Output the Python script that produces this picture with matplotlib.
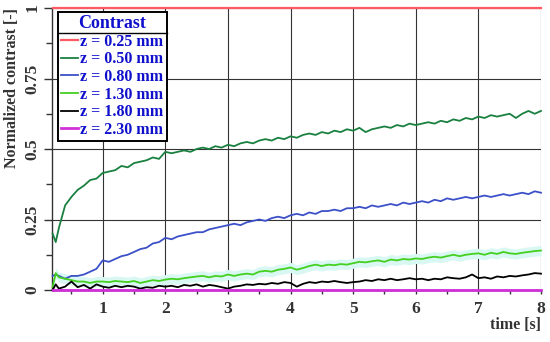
import matplotlib
matplotlib.use("Agg")
import matplotlib.pyplot as plt
from matplotlib.lines import Line2D
from matplotlib.ticker import MultipleLocator

plt.rcParams['font.family'] = ['Liberation Serif', 'DejaVu Serif']

time_s = [0.2, 0.25, 0.3, 0.4, 0.5, 0.6, 0.7, 0.8, 0.9, 1.0,
          1.1, 1.2, 1.3, 1.4, 1.5, 1.6, 1.7, 1.8, 1.9, 2.0,
          2.1, 2.2, 2.3, 2.4, 2.5, 2.6, 2.7, 2.8, 2.9, 3.0,
          3.1, 3.2, 3.3, 3.4, 3.5, 3.6, 3.7, 3.8, 3.9, 4.0,
          4.1, 4.2, 4.3, 4.4, 4.5, 4.6, 4.7, 4.8, 4.9, 5.0,
          5.1, 5.2, 5.3, 5.4, 5.5, 5.6, 5.7, 5.8, 5.9, 6.0,
          6.1, 6.2, 6.3, 6.4, 6.5, 6.6, 6.7, 6.8, 6.9, 7.0,
          7.1, 7.2, 7.3, 7.4, 7.5, 7.6, 7.7, 7.8, 7.9, 8.0]

z_025 = [1.0] * len(time_s)
z_050 = [0.20, 0.17, 0.22, 0.30, 0.33, 0.355, 0.37, 0.39, 0.395, 0.415,
         0.42, 0.425, 0.44, 0.435, 0.45, 0.455, 0.46, 0.47, 0.465, 0.49,
         0.485, 0.49, 0.495, 0.49, 0.50, 0.505, 0.50, 0.51, 0.505, 0.515,
         0.51, 0.52, 0.525, 0.52, 0.53, 0.535, 0.53, 0.54, 0.535, 0.545,
         0.54, 0.55, 0.555, 0.55, 0.56, 0.555, 0.565, 0.56, 0.57, 0.565,
         0.575, 0.56, 0.57, 0.575, 0.58, 0.575, 0.585, 0.58, 0.59, 0.585,
         0.59, 0.595, 0.59, 0.60, 0.595, 0.605, 0.60, 0.61, 0.605, 0.615,
         0.61, 0.62, 0.615, 0.62, 0.625, 0.61, 0.625, 0.635, 0.625, 0.635]
z_080 = [0.05, 0.055, 0.05, 0.04, 0.05, 0.05, 0.055, 0.065, 0.075, 0.105,
         0.10, 0.11, 0.12, 0.125, 0.135, 0.145, 0.15, 0.165, 0.17, 0.185,
         0.18, 0.19, 0.195, 0.20, 0.205, 0.205, 0.215, 0.22, 0.225, 0.23,
         0.235, 0.23, 0.24, 0.245, 0.25, 0.245, 0.255, 0.26, 0.255, 0.265,
         0.27, 0.265, 0.275, 0.27, 0.28, 0.28, 0.285, 0.28, 0.29, 0.29,
         0.295, 0.29, 0.30, 0.295, 0.30, 0.305, 0.30, 0.31, 0.305, 0.31,
         0.315, 0.31, 0.32, 0.315, 0.325, 0.32, 0.325, 0.33, 0.325, 0.33,
         0.335, 0.33, 0.335, 0.34, 0.335, 0.34, 0.345, 0.34, 0.35, 0.345]
z_130 = [0.01, 0.06, 0.045, 0.04, 0.035, 0.03, 0.03, 0.025, 0.03, 0.03,
         0.028, 0.032, 0.03, 0.028, 0.032, 0.025, 0.03, 0.035, 0.032, 0.037,
         0.04, 0.038, 0.042, 0.045, 0.048, 0.05, 0.045, 0.05, 0.048, 0.055,
         0.05, 0.055, 0.058, 0.055, 0.065, 0.068, 0.065, 0.072, 0.075, 0.08,
         0.072, 0.078, 0.085, 0.09, 0.085, 0.09, 0.088, 0.092, 0.09, 0.095,
         0.10, 0.098, 0.102, 0.105, 0.10, 0.108, 0.105, 0.11, 0.108, 0.112,
         0.11, 0.115, 0.118, 0.115, 0.12, 0.125, 0.12, 0.125, 0.128, 0.13,
         0.125, 0.132, 0.128, 0.135, 0.13, 0.128, 0.132, 0.135, 0.138, 0.14]
z_180 = [0.0, 0.02, 0.005, 0.012, 0.03, 0.01, 0.018, 0.005, 0.02, 0.012,
         0.008, 0.015, 0.01, 0.015, 0.012, 0.005, 0.01, 0.008, 0.015, 0.012,
         0.015, 0.01, 0.018, 0.015, 0.02, 0.012, 0.018, 0.015, 0.01, 0.005,
         0.012, 0.015, 0.02, 0.018, 0.022, 0.02, 0.025, 0.022, 0.028, 0.025,
         0.012, 0.022, 0.028, 0.025, 0.03, 0.028, 0.032, 0.028, 0.025, 0.028,
         0.03, 0.035, 0.032, 0.038, 0.035, 0.04, 0.035, 0.038, 0.042, 0.038,
         0.04, 0.035, 0.04, 0.038, 0.045, 0.042, 0.04, 0.045, 0.055, 0.042,
         0.045, 0.04, 0.048, 0.045, 0.05, 0.048, 0.052, 0.055, 0.06, 0.058]
z_230 = [0.0] * len(time_s)

labels = ["z = 0.25 mm", "z = 0.50 mm", "z = 0.80 mm",
          "z = 1.30 mm", "z = 1.80 mm", "z = 2.30 mm"]
colors = ["#ff5a64", "#1a8040", "#3c50c8", "#44d020", "#000000", "#d030d8"]
widths = [1.6, 1.3, 1.3, 1.3, 1.3, 2.0]
series = [z_025, z_050, z_080, z_130, z_180, z_230]

fig = plt.figure(figsize=(5.5, 3.42), dpi=100)
ax = fig.add_axes([0.0945, 0.152, 0.8891, 0.8246])

band_lo = [v - 0.018 for v in z_130]
band_hi = [v + 0.018 for v in z_130]
ax.fill_between(time_s, band_lo, band_hi, color="#d9f8f3", lw=0, zorder=1)

for y, c, w, lab in zip(series, colors, widths, labels):
    ax.plot(time_s, y, color=c, lw=w, label=lab, zorder=3, clip_on=False)

ax.set_xlim(0.19, 8)
ax.set_ylim(0, 1)
ax.xaxis.set_minor_locator(MultipleLocator(0.5))
ax.yaxis.set_minor_locator(MultipleLocator(0.125))
ax.set_yticks([0, 0.25, 0.5, 0.75, 1])
ax.set_yticklabels(["0", "0.25", "0.5", "0.75", "1"], rotation=90, va="center",
                   fontweight="bold", fontsize=12.5, color="#333333")
ax.set_xticks([1, 2, 3, 4, 5, 6, 7, 8])
ax.set_xticklabels(["1", "2", "3", "4", "5", "6", "7", "8"],
                   fontweight="bold", fontsize=12.5, color="#333333")
ax.tick_params(axis="y", which="major", direction="out", length=6, width=1, pad=2,
               color="#333333")
ax.tick_params(axis="y", which="minor", direction="out", length=4, width=1,
               color="#333333")
ax.tick_params(axis="x", which="major", direction="out", length=3, width=1, pad=5,
               color="#333333")
ax.tick_params(axis="x", which="minor", direction="out", length=3, width=1,
               color="#333333")
ax.grid(True, which="major", color="#333333", lw=0.8)
ax.set_axisbelow(True)
for s in ["top", "right"]:
    ax.spines[s].set_visible(False)
ax.spines["left"].set_linewidth(1.0)
ax.spines["left"].set_color("#333333")
ax.spines["bottom"].set_linewidth(1.0)
ax.spines["bottom"].set_color("#333333")

ax.set_ylabel("Normalized contrast [-]", fontweight="bold", fontsize=11.5,
              color="#333333")
ax.yaxis.set_label_coords(-0.066, 0.716)
ax.text(1.0, -0.125, "time [s]", transform=ax.transAxes, ha="right", va="center",
        fontweight="bold", fontsize=11.5, color="#333333")

leg = ax.legend(loc="upper left", bbox_to_anchor=(0.012, 0.986), borderaxespad=0,
                title="Contrast", fancybox=False, framealpha=1, edgecolor="#000000",
                prop={"weight": "bold", "size": 11.5}, handlelength=1.05,
                handletextpad=0.15, labelspacing=0.1, borderpad=0.2)
leg.get_frame().set_linewidth(1.4)
leg.get_title().set_color("#1010cc")
leg.get_title().set_fontweight("bold")
leg.get_title().set_fontsize(13)
for t in leg.get_texts():
    t.set_color("#1010cc")
leg.set_zorder(10)

fig.canvas.draw()
r = fig.canvas.get_renderer()
fb = leg.get_frame().get_window_extent(r)
tb = leg.get_title().get_window_extent(r)
inv = fig.transFigure.inverted()
(x0, y0) = inv.transform((fb.x0, tb.y0 - 1))
(x1, _) = inv.transform((fb.x1, tb.y0 - 1))
fig.add_artist(Line2D([x0, x1], [y0, y0], color="#000000", lw=1.0, zorder=20))

fig.savefig("out.png", dpi=100)
